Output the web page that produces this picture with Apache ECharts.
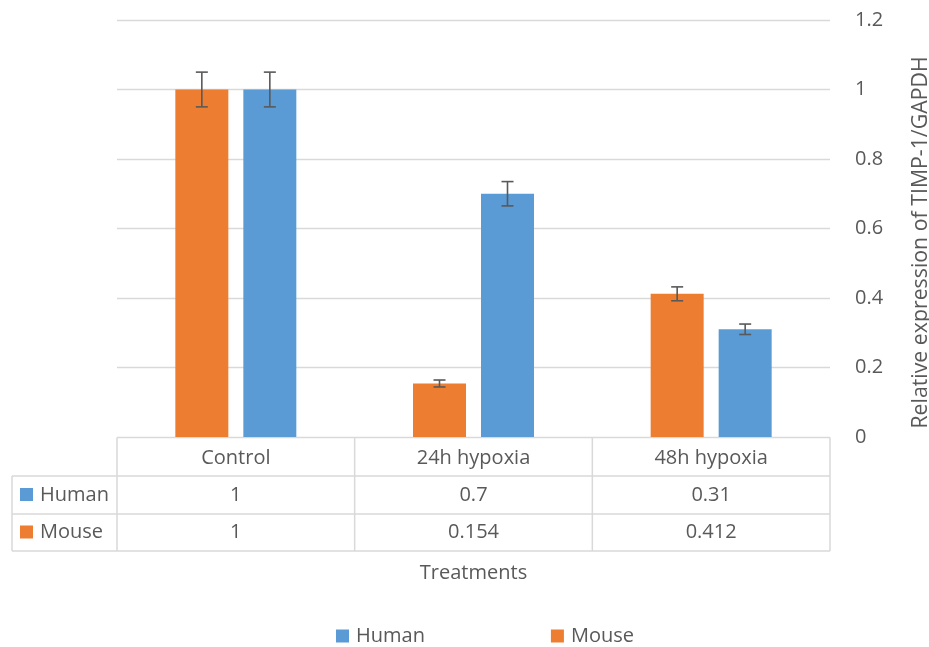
<!DOCTYPE html>
<html>
<head>
<meta charset="utf-8">
<script src="https://cdn.jsdelivr.net/npm/echarts@6/dist/echarts.min.js"></script>
<style>
html,body{margin:0;padding:0;background:#fff;}
#chart{width:929px;height:647px;}
</style>
</head>
<body>
<div id="chart"></div>
<script>
const categories = ['Control', '24h hypoxia', '48h hypoxia'];
const humanValues = [1, 0.7, 0.31];
const mouseValues = [1, 0.154, 0.412];
const humanErrors = [0.05, 0.035, 0.015];
const mouseErrors = [0.05, 0.01, 0.02];
const humanLabels = ['1', '0.7', '0.31'];
const mouseLabels = ['1', '0.154', '0.412'];
const yMin = 0, yMax = 1.2, yStep = 0.2;

const FONT = 'Open Sans';
const TXT = '#595959';
const LINE = '#d9d9d9';
const BLUE = '#5B9BD5';
const ORANGE = '#ED7D31';
const BAR_W = 53, BAR_GAP = 15;
const GRID = {left: 117, right: 99, top: 20, bottom: 210};

const chart = echarts.init(document.getElementById('chart'), null, {renderer: 'canvas'});

function errSeries(name, values, errs, color, offset) {
  return {
    name: name + ' err',
    type: 'custom',
    z: 5,
    silent: true,
    data: values.map((v, i) => [i, v, errs[i]]),
    encode: {x: 0, y: 1},
    renderItem: function (params, api) {
      const c = api.value(0), v = api.value(1), e = api.value(2);
      const hi = api.coord([c, v + e]);
      const lo = api.coord([c, v - e]);
      const x = hi[0] + offset;
      const style = {stroke: '#595959', lineWidth: 1.6};
      return {
        type: 'group',
        children: [
          {type: 'line', shape: {x1: x, y1: hi[1], x2: x, y2: lo[1]}, style: style},
          {type: 'line', shape: {x1: x - 6, y1: hi[1], x2: x + 6, y2: hi[1]}, style: style},
          {type: 'line', shape: {x1: x - 6, y1: lo[1], x2: x + 6, y2: lo[1]}, style: style}
        ]
      };
    }
  };
}

const off = (BAR_W + BAR_GAP) / 2;

const option = {
  animation: false,
  textStyle: {fontFamily: FONT, color: TXT},
  grid: {left: GRID.left, right: GRID.right, top: GRID.top, bottom: GRID.bottom, containLabel: false, outerBoundsMode: 'none'},
  legend: {
    data: ['Human', 'Mouse'],
    left: 331,
    top: 621,
    icon: 'rect',
    itemWidth: 13,
    itemHeight: 13,
    itemGap: 126,
    textStyle: {fontFamily: FONT, fontSize: 20, color: TXT, padding: [0, 0, 0, 2]}
  },
  xAxis: {
    type: 'category',
    data: categories,
    axisLine: {show: true, lineStyle: {color: LINE, width: 1}},
    axisTick: {show: false},
    axisLabel: {fontFamily: FONT, fontSize: 20, color: TXT, margin: 11},
    name: 'Treatments',
    nameLocation: 'middle',
    nameGap: 126,
    nameTextStyle: {fontFamily: FONT, fontSize: 20, color: TXT}
  },
  yAxis: {
    type: 'value',
    position: 'right',
    min: yMin,
    max: yMax,
    interval: yStep,
    axisLine: {show: false},
    axisTick: {show: false},
    splitLine: {lineStyle: {color: LINE, width: 1.3}},
    axisLabel: {fontFamily: FONT, fontSize: 20, color: TXT, margin: 25},
    name: 'Relative expression of TIMP-1/GAPDH',
    nameLocation: 'middle',
    nameRotate: 90,
    nameGap: 80,
    nameTextStyle: {fontFamily: FONT, fontSize: 21.3, color: TXT, padding: [0, 28, 0, 0]}
  },
  series: [
    {name: 'Mouse', type: 'bar', data: mouseValues, barWidth: BAR_W, barGap: (BAR_GAP / BAR_W * 100) + '%', itemStyle: {color: ORANGE}},
    {name: 'Human', type: 'bar', data: humanValues, barWidth: BAR_W, itemStyle: {color: BLUE}},
    errSeries('Mouse', mouseValues, mouseErrors, ORANGE, -off),
    errSeries('Human', humanValues, humanErrors, BLUE, off)
  ]
};
chart.setOption(option);

// Data table below the plot
function buildTable() {
  const W = 929, H = 647;
  const x0 = GRID.left, x1 = W - GRID.right;
  const yAxisLine = H - GRID.bottom;
  const headTop = yAxisLine + 1;
  const rowH = [38, 38, 37];
  const r1 = headTop + rowH[0];
  const r2 = r1 + rowH[1];
  const r3 = r2 + rowH[2];
  const keyLeft = 12;
  const colW = (x1 - x0) / categories.length;
  const g = [];
  const ls = {stroke: LINE, lineWidth: 1.5};
  g.push({type: 'line', shape: {x1: keyLeft, y1: r1, x2: x1, y2: r1}, style: ls});
  g.push({type: 'line', shape: {x1: keyLeft, y1: r2, x2: x1, y2: r2}, style: ls});
  g.push({type: 'line', shape: {x1: keyLeft, y1: r3, x2: x1, y2: r3}, style: ls});
  g.push({type: 'line', shape: {x1: keyLeft, y1: r1, x2: keyLeft, y2: r3}, style: ls});
  for (let i = 0; i <= categories.length; i++) {
    const x = x0 + i * colW;
    g.push({type: 'line', shape: {x1: x, y1: headTop, x2: x, y2: r3}, style: ls});
  }
  const rows = [
    {name: 'Human', color: BLUE, labels: humanLabels, yc: (r1 + r2) / 2},
    {name: 'Mouse', color: ORANGE, labels: mouseLabels, yc: (r2 + r3) / 2}
  ];
  rows.forEach(r => {
    g.push({type: 'rect', shape: {x: 20, y: r.yc - 7, width: 13, height: 13}, style: {fill: r.color}});
    g.push({type: 'text', x: 40, y: r.yc, style: {text: r.name, fill: TXT, font: '20px "' + FONT + '"', textAlign: 'left', textVerticalAlign: 'middle'}});
    r.labels.forEach((t, i) => {
      const cx = chart.convertToPixel({xAxisIndex: 0}, i);
      g.push({type: 'text', x: cx, y: r.yc, style: {text: t, fill: TXT, font: '20px "' + FONT + '"', textAlign: 'center', textVerticalAlign: 'middle'}});
    });
  });
  chart.setOption({graphic: g.map(e => Object.assign({silent: true}, e))});
}
buildTable();
</script>
</body>
</html>
